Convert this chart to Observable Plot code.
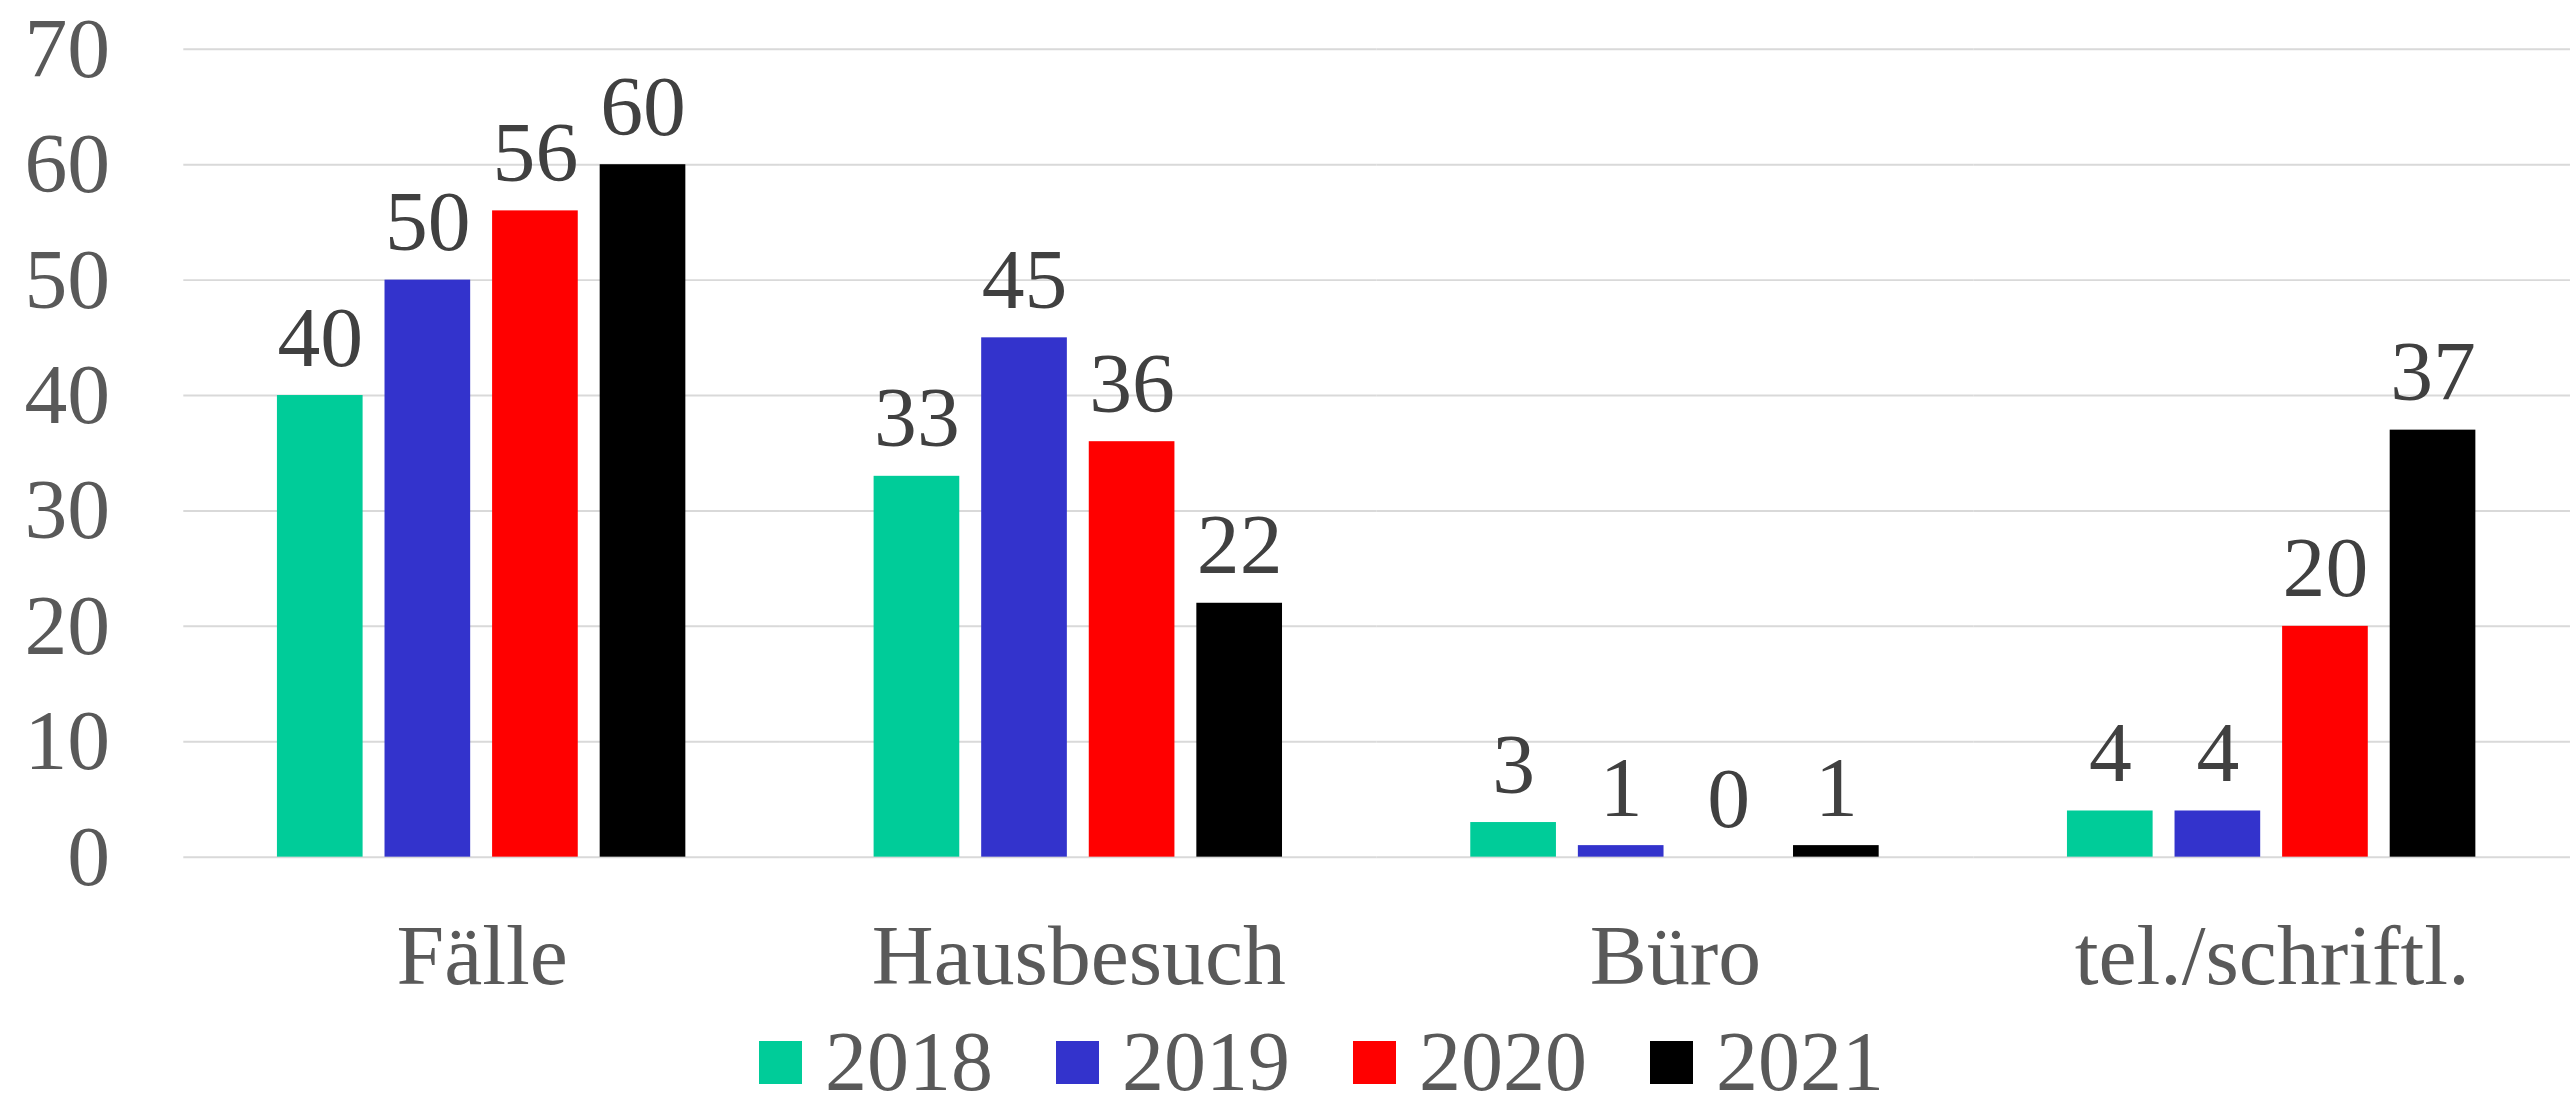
<!DOCTYPE html>
<html>
<head>
<meta charset="utf-8">
<script src="https://cdn.jsdelivr.net/npm/d3@7"></script>
<script src="https://cdn.jsdelivr.net/npm/@observablehq/plot@0.6"></script>
<style>
  html, body { margin: 0; padding: 0; background: #fff; overflow: hidden; width: 2570px; height: 1109px; }
  #chart { position: absolute; left: 0; top: 0; }
  #legend {
    position: absolute; left: 759px; top: 1015px; height: 93px;
    display: flex; align-items: flex-start;
    font-family: "Liberation Serif", "Times New Roman", serif; font-size: 84px; line-height: 93px;
    color: #595959;
  }
  .item { display: flex; align-items: flex-start; margin-right: 63px; }
  .sw { width: 43px; height: 43px; margin-right: 23px; margin-top: 26px; }
</style>
</head>
<body>
<div id="chart"></div>
<div id="legend"></div>
<script>
const categories = ["Fälle", "Hausbesuch", "Büro", "tel./schriftl."];
const years = ["2018", "2019", "2020", "2021"];
const v2018 = [40, 33, 3, 4];
const v2019 = [50, 45, 1, 4];
const v2020 = [56, 36, 0, 20];
const v2021 = [60, 22, 1, 37];
const colors = ["#00cc99", "#3333cc", "#ff0000", "#000000"];
const yTicks = [0, 10, 20, 30, 40, 50, 60, 70];

const series = [v2018, v2019, v2020, v2021];
const data = [];
categories.forEach((c, i) => {
  years.forEach((y, j) => data.push({category: c, year: y, value: series[j][i]}));
});

const font = "'Liberation Serif', 'Times New Roman', serif";

const chart = Plot.plot({
  width: 2580,
  height: 1030,
  marginLeft: 184,
  marginRight: 0,
  marginTop: 49,
  marginBottom: 170,
  style: {fontFamily: font, fontSize: "86px", background: "white"},
  fx: {domain: categories, paddingInner: 0, paddingOuter: 0, label: null},
  x: {domain: years, paddingInner: 0.2, paddingOuter: 0.854, axis: null},
  y: {domain: [0, 70], label: null},
  color: {domain: years, range: colors},
  marks: [
    Plot.gridY(yTicks, {stroke: "#d9d9d9", strokeOpacity: 1, strokeWidth: 2}),
    Plot.barY(data, {fx: "category", x: "year", y: "value", fill: "year"}),
    Plot.text(data, {fx: "category", x: "year", y: "value", text: d => String(d.value),
      lineAnchor: "bottom", dy: -30, fill: "#404040", fontSize: 86}),
    Plot.axisY(yTicks, {tickSize: 0, tickPadding: 74, fill: "#595959", fontSize: 86, label: null}),
    Plot.axisFx({anchor: "bottom", tickSize: 0, tickPadding: 66, fill: "#595959", fontSize: 86, label: null})
  ]
});
document.getElementById("chart").appendChild(chart);

const legend = document.getElementById("legend");
years.forEach((y, i) => {
  const item = document.createElement("div");
  item.className = "item";
  const sw = document.createElement("div");
  sw.className = "sw";
  sw.style.background = colors[i];
  const t = document.createElement("span");
  t.textContent = y;
  item.appendChild(sw);
  item.appendChild(t);
  legend.appendChild(item);
});
</script>
</body>
</html>
